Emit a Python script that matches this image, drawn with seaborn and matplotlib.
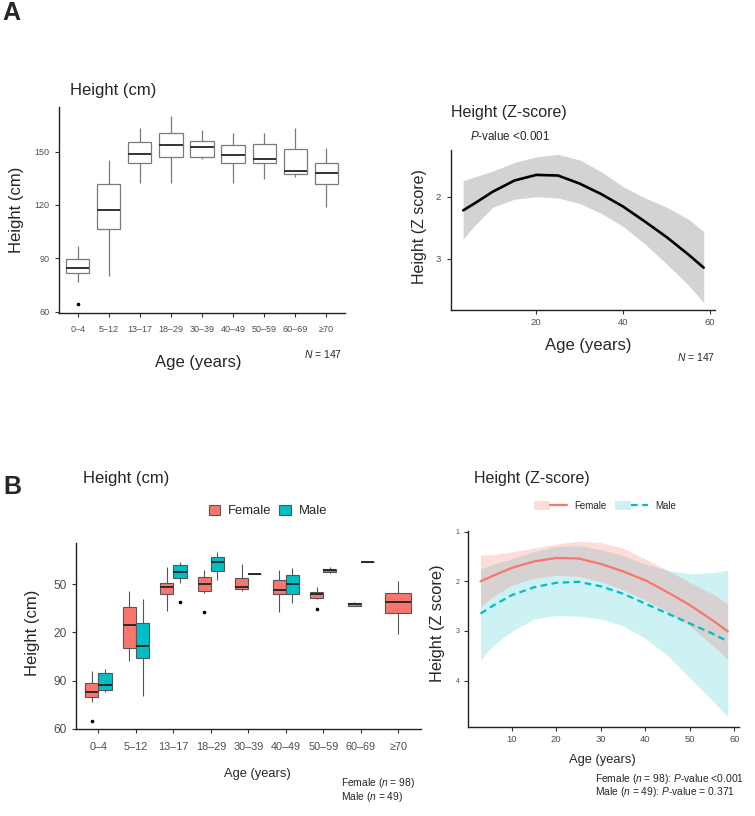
import numpy as np
import pandas as pd
import matplotlib
matplotlib.use("Agg")
import matplotlib.pyplot as plt
from matplotlib.patches import Patch
from matplotlib.lines import Line2D
from matplotlib.legend_handler import HandlerTuple
import seaborn as sns

sns.set_style("ticks")
plt.rcParams['font.family'] = ['Liberation Sans', 'DejaVu Sans']
plt.rcParams['mathtext.fontset'] = 'custom'
plt.rcParams['mathtext.rm'] = 'Liberation Sans'
plt.rcParams['mathtext.it'] = 'Liberation Sans:italic'

# ---------------- data ----------------
ages = ["0–4", "5–12", "13–17", "18–29", "30–39", "40–49", "50–59", "60–69", "≥70"]

# Panel A, boxplot summaries (cm)
a_lo  = [76.9, 80.1, 132.6, 132.6, 145.9, 132.6, 134.4, 135.6, 119.1]
a_q1  = [81.6, 106.3, 143.4, 147.2, 147.2, 143.4, 143.6, 137.3, 131.6]
a_med = [84.8, 117.4, 148.5, 153.9, 152.4, 148.1, 146.1, 138.9, 138.2]
a_q3  = [89.6, 132.0, 155.6, 160.3, 156.0, 153.9, 154.1, 151.3, 143.4]
a_hi  = [97.1, 145.3, 163.5, 170.0, 162.2, 160.3, 160.7, 163.1, 151.9]
a_out = [64.5, None, None, None, None, None, None, None, None]

# Panel B, female boxplot summaries
f_lo  = [77.0, 102.4, 133.0, 144.2, 145.9, 132.6, 140.5, 136.3, 119.0]
f_q1  = [79.7, 110.5, 143.6, 145.7, 147.1, 144.0, 141.1, 136.6, 131.8]
f_med = [83.2, 124.3, 148.1, 150.0, 148.1, 146.3, 143.6, 137.6, 138.6]
f_q3  = [88.6, 135.5, 150.8, 154.1, 153.7, 152.5, 145.2, 138.4, 144.2]
f_hi  = [96.2, 145.7, 160.6, 158.5, 162.4, 158.9, 148.1, 138.6, 152.0]
f_out = [65.0, None, None, 132.4, None, None, 134.4, None, None]

# Panel B, male boxplot summaries (None = no male in group)
m_lo  = [83.2, 80.5, 150.4, 152.5, 156.0, 138.0, 156.8, 163.7, None]
m_q1  = [84.0, 104.3, 153.5, 158.3, 156.0, 144.0, 157.2, 163.7, None]
m_med = [87.1, 111.7, 157.2, 163.9, 156.0, 150.0, 158.5, 163.7, None]
m_q3  = [95.0, 125.6, 162.0, 166.8, 156.0, 155.6, 159.5, 163.7, None]
m_hi  = [97.4, 140.9, 163.7, 170.1, 156.0, 160.1, 160.3, 163.7, None]
m_out = [None, None, 138.8, None, None, None, None, None, None]

# Panel A, Z-score curve (plotted on reversed axis as shown)
za_x     = [3.2, 6, 10, 15, 20, 25, 30, 35, 40, 45, 50, 55, 58.5]
za_fit   = [2.22, 2.10, 1.92, 1.74, 1.65, 1.66, 1.79, 1.96, 2.16, 2.40, 2.65, 2.93, 3.14]
za_upper = [1.74, 1.68, 1.59, 1.45, 1.36, 1.32, 1.41, 1.60, 1.84, 2.02, 2.17, 2.36, 2.56]
za_lower = [2.68, 2.45, 2.17, 2.04, 2.00, 2.02, 2.11, 2.27, 2.48, 2.76, 3.08, 3.42, 3.70]

# Panel B, Z-score curves by sex
zb_x       = [3, 6, 10, 15, 20, 25, 30, 35, 40, 45, 50, 55, 58.5]
zf_fit     = [2.00, 1.88, 1.73, 1.60, 1.53, 1.54, 1.65, 1.80, 1.98, 2.22, 2.48, 2.78, 3.01]
zf_upper   = [1.47, 1.46, 1.41, 1.33, 1.25, 1.19, 1.22, 1.33, 1.55, 1.78, 2.02, 2.25, 2.45]
zf_lower   = [2.51, 2.30, 2.08, 1.94, 1.88, 1.90, 2.01, 2.17, 2.38, 2.62, 2.90, 3.28, 3.58]
zm_fit     = [2.65, 2.48, 2.28, 2.12, 2.03, 2.01, 2.10, 2.25, 2.45, 2.65, 2.85, 3.05, 3.21]
zm_upper   = [1.75, 1.65, 1.55, 1.40, 1.30, 1.28, 1.36, 1.48, 1.65, 1.78, 1.85, 1.82, 1.78]
zm_lower   = [3.58, 3.28, 3.01, 2.76, 2.69, 2.70, 2.76, 2.90, 3.15, 3.50, 3.95, 4.40, 4.73]

bl_ytick_vals = [60, 90, 120, 150]
bl_ytick_labels = ["60", "90", "20", "50"]

FEMALE = "#F8766D"
MALE = "#00BFC4"


def sample(lo, q1, med, q3, hi, out):
    """Nine points reproducing the read five-number summary (+ outlier)."""
    if lo == hi:
        return [lo]
    v = [lo, lo, q1, (q1 + med) / 2, med, (med + q3) / 2, q3, hi, hi]
    if out is not None:
        if out < lo:
            v[0] = out
        else:
            v[8] = out
    return v


def build(lo, q1, med, q3, hi, out, sex=None):
    rows = []
    for i, a in enumerate(ages):
        if lo[i] is None:
            continue
        for val in sample(lo[i], q1[i], med[i], q3[i], hi[i], out[i]):
            rows.append({"age": a, "height": val, "sex": sex})
    return pd.DataFrame(rows)


df_a = build(a_lo, a_q1, a_med, a_q3, a_hi, a_out)
df_f = build(f_lo, f_q1, f_med, f_q3, f_hi, f_out, "Female")
df_m = build(m_lo, m_q1, m_med, m_q3, m_hi, m_out, "Male")
df_b = pd.concat([df_f, df_m], ignore_index=True)

# ---------------- figure ----------------
W, H = 755, 816
fig = plt.figure(figsize=(W / 100, H / 100), dpi=100)


def px_axes(l, t, r, b):
    return fig.add_axes([l / W, 1 - b / H, (r - l) / W, (b - t) / H])


def T(x, y, s, **kw):
    kw.setdefault("va", "center")
    return fig.text(x / W, 1 - y / H, s, **kw)


TICKC = "#4d4d4d"


def style_axes(ax, fs, xpad, ypad):
    sns.despine(ax=ax)
    for sp in ["left", "bottom"]:
        ax.spines[sp].set_color("#222222")
        ax.spines[sp].set_linewidth(1.0)
    ax.tick_params(axis="x", labelsize=fs, colors="#333333", labelcolor=TICKC,
                   length=3, width=0.8, pad=xpad)
    ax.tick_params(axis="y", labelsize=fs, colors="#333333", labelcolor=TICKC,
                   length=3, width=0.8, pad=ypad)
    ax.set_xlabel("")
    ax.set_ylabel("")


flier = dict(marker="o", markersize=1.6, markerfacecolor="black",
             markeredgecolor="black", linestyle="none")

# ----- Panel A left: boxplot -----
ax1 = px_axes(59, 106.7, 345, 312.7)
sns.boxplot(data=df_a, x="age", y="height", order=ages, ax=ax1, width=0.75,
            color="white", linecolor="#7a7a7a", linewidth=0.9, saturation=1,
            showcaps=False, flierprops=flier,
            medianprops=dict(color="#333333", linewidth=1.4))
ax1.set_xlim(-0.6, 8.6)
ax1.set_ylim(59.4, 175.3)
ax1.set_yticks([60, 90, 120, 150])
style_axes(ax1, 6.5, 6, 4)

T(70, 90, "Height (cm)", fontsize=12, ha="left")
T(17, 210, "Height (cm)", fontsize=12, rotation=90, ha="center")
T(198, 362, "Age (years)", fontsize=12, ha="center")
T(342, 354, "$N$ = 147", fontsize=7.5, ha="right")
T(2, 13, "A", fontsize=18, fontweight="bold", ha="left")

# ----- Panel A right: Z-score curve -----
ax2 = px_axes(451, 150, 715, 310)
ax2.fill_between(za_x, za_lower, za_upper, color="#d3d3d3", linewidth=0)
sns.lineplot(x=za_x, y=za_fit, ax=ax2, color="black", linewidth=1.9)
ax2.set_xlim(0.4, 61.1)
ax2.set_ylim(3.82, 1.25)
ax2.set_xticks([20, 40, 60])
ax2.set_yticks([2, 3])
style_axes(ax2, 6.8, 3, 4)

T(451, 112, "Height (Z-score)", fontsize=11.5, ha="left")
T(470, 137, "$P$-value <0.001", fontsize=8.4, ha="left")
T(420, 227, "Height (Z score)", fontsize=11.5, rotation=90, ha="center")
T(588, 345, "Age (years)", fontsize=12, ha="center")
T(715, 357, "$N$ = 147", fontsize=7.5, ha="right")

# ----- Panel B left: boxplot by sex -----
ax3 = px_axes(76, 543.3, 420.7, 729.3)
two = df_b[df_b["age"] != "≥70"]
sns.boxplot(data=two, x="age", y="height", hue="sex", order=ages,
            hue_order=["Female", "Male"], palette=[FEMALE, MALE], ax=ax3,
            width=0.7, linecolor="#555555", linewidth=0.8, saturation=1,
            showcaps=False, flierprops=flier, legend=False,
            medianprops=dict(color="#2a2a2a", linewidth=1.4))
solo = df_b[df_b["age"] == "≥70"]
sns.boxplot(data=solo, x="age", y="height", order=ages, ax=ax3,
            width=0.7, color=FEMALE, linecolor="#555555", linewidth=0.8,
            saturation=1, showcaps=False, flierprops=flier,
            medianprops=dict(color="#2a2a2a", linewidth=1.4))
ax3.set_xlim(-0.6, 8.6)
ax3.set_ylim(59.8, 175.3)
ax3.set_yticks(bl_ytick_vals)
ax3.set_yticklabels(bl_ytick_labels)
style_axes(ax3, 8.6, 6, 4)
ax3.tick_params(axis="x", labelsize=7.8)

T(12, 487, "B", fontsize=18, fontweight="bold", ha="center")
T(83, 479, "Height (cm)", fontsize=12, ha="left")
T(32, 633, "Height (cm)", fontsize=12, rotation=90, ha="center")
T(257, 774, "Age (years)", fontsize=9.3, ha="center")
T(341, 783, "Female ($n$ = 98)", fontsize=7.4, ha="left")
T(341, 797, "Male ($n$ = 49)", fontsize=7.4, ha="left")

hb = [Patch(facecolor=FEMALE, edgecolor="#555555", linewidth=0.8),
      Patch(facecolor=MALE, edgecolor="#555555", linewidth=0.8)]
fig.legend(hb, ["Female", "Male"], loc="center",
           bbox_to_anchor=(268 / W, 1 - 511 / H), ncol=2, frameon=False,
           fontsize=9.4, handlelength=0.9, handleheight=0.8,
           columnspacing=0.6, handletextpad=0.6)

# ----- Panel B right: Z-score curves by sex -----
ax4 = px_axes(467.7, 530.7, 739.3, 726.7)
ax4.fill_between(zb_x, zm_lower, zm_upper, color=MALE, alpha=0.2, linewidth=0)
ax4.fill_between(zb_x, zf_lower, zf_upper, color=FEMALE, alpha=0.25, linewidth=0)
sns.lineplot(x=zb_x, y=zf_fit, ax=ax4, color=FEMALE, linewidth=1.6)
sns.lineplot(x=zb_x, y=zm_fit, ax=ax4, color=MALE, linewidth=1.6,
             linestyle=(0, (3, 2)))
ax4.set_xlim(0.12, 61.1)
ax4.set_ylim(4.93, 0.98)
ax4.set_xticks([10, 20, 30, 40, 50, 60])
ax4.set_yticks([1, 2, 3, 4])
style_axes(ax4, 6.8, 3, 3)
ax4.tick_params(axis="y", labelsize=5)

T(474, 479, "Height (Z-score)", fontsize=11.5, ha="left")
T(437, 623, "Height (Z score)", fontsize=11.8, rotation=90, ha="center")
T(602, 760, "Age (years)", fontsize=9.3, ha="center")
T(595, 779, "Female ($n$ = 98): $P$-value <0.001", fontsize=7.4, ha="left")
T(595, 792, "Male ($n$ = 49): $P$-value = 0.371", fontsize=7.4, ha="left")

hl = [(Patch(facecolor=FEMALE, alpha=0.25, edgecolor="none"),
       Line2D([], [], color=FEMALE, linewidth=1.6)),
      (Patch(facecolor=MALE, alpha=0.2, edgecolor="none"),
       Line2D([], [], color=MALE, linewidth=1.6, linestyle=(0, (3, 2))))]
fig.legend(hl, ["Female", "Male"], loc="center",
           bbox_to_anchor=(605 / W, 1 - 506 / H), ncol=2, frameon=False,
           fontsize=7, handlelength=3.4, handleheight=1.0,
           columnspacing=0.8, handletextpad=0.8,
           handler_map={tuple: HandlerTuple(ndivide=None, pad=0)})

fig.savefig("out.png", dpi=100)
